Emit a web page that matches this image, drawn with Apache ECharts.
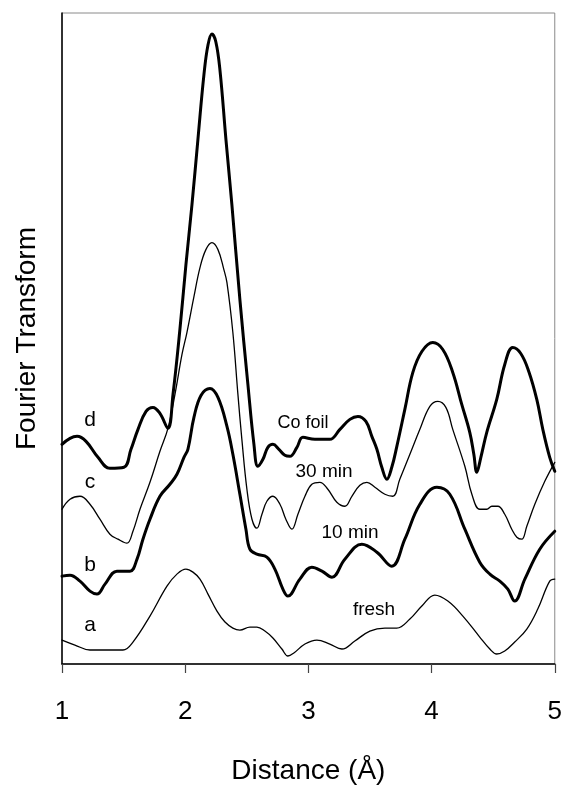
<!DOCTYPE html>
<html>
<head>
<meta charset="utf-8">
<script src="https://cdn.jsdelivr.net/npm/echarts@6/dist/echarts.min.js"></script>
<style>
html,body{margin:0;padding:0;background:#fff;}
#chart{width:565px;height:790px;}
</style>
</head>
<body>
<div id="chart"></div>
<script>
// X axis ticks (Distance, Å)
const xTicks = [1, 2, 3, 4, 5];

// Curve d: Co foil (thick)
const curveD = [
[1.000,220],[1.065,226],[1.122,228],[1.195,223],[1.292,207],[1.389,196],[1.503,197],[1.560,215],
[1.617,235],[1.682,253],[1.738,257],[1.795,251],[1.860,236],[1.901,270],[1.957,335],[2.006,400],
[2.055,460],[2.103,525],[2.152,590],[2.185,620],[2.217,631],[2.249,623],[2.282,595],[2.331,525],
[2.379,460],[2.444,365],[2.509,280],[2.558,220],[2.590,198],[2.631,205],[2.671,217],[2.712,220],
[2.761,215],[2.809,209],[2.850,208],[2.907,217],[2.955,227],[3.053,225],[3.174,225],[3.256,235],
[3.337,245],[3.402,248],[3.467,243],[3.515,228],[3.556,215],[3.596,197],[3.637,185],[3.677,197],
[3.718,218],[3.783,255],[3.848,292],[3.921,313],[4.010,322],[4.091,315],[4.172,292],[4.245,260],
[4.310,232],[4.343,210],[4.367,192],[4.400,207],[4.448,232],[4.529,265],[4.594,300],[4.659,317],
[4.724,311],[4.789,293],[4.854,265],[4.903,235],[4.959,207],[5.000,193]
];

// Curve c: 30 min (thin)
const curveC = [
[1.000,155],[1.065,165],[1.146,168],[1.227,160],[1.308,145],[1.389,130],[1.454,125],[1.527,121],
[1.576,133],[1.633,155],[1.714,182],[1.795,213],[1.860,236],[1.917,270],[1.974,310],[2.014,332],
[2.071,368],[2.120,397],[2.168,415],[2.217,422],[2.266,415],[2.314,395],[2.339,382],[2.387,332],
[2.428,270],[2.460,225],[2.501,175],[2.542,145],[2.582,136],[2.623,150],[2.663,163],[2.712,168],
[2.769,160],[2.817,145],[2.866,135],[2.915,150],[2.972,168],[3.028,180],[3.093,182],[3.158,175],
[3.231,162],[3.296,158],[3.353,168],[3.418,179],[3.475,182],[3.540,177],[3.621,170],[3.686,168],
[3.742,185],[3.824,210],[3.905,235],[3.986,258],[4.051,263],[4.116,257],[4.172,235],[4.270,198],
[4.327,170],[4.391,155],[4.448,155],[4.489,158],[4.538,158],[4.594,150],[4.651,135],[4.692,127],
[4.732,125],[4.773,138],[4.838,160],[4.919,183],[5.000,202]
];

// Curve b: 10 min (thick)
const curveB = [
[1.000,88],[1.065,89],[1.146,83],[1.227,73],[1.284,70],[1.349,80],[1.446,93],[1.552,93],
[1.609,105],[1.657,125],[1.714,145],[1.795,168],[1.876,180],[1.933,190],[1.990,207],[2.022,215],
[2.071,247],[2.128,269],[2.201,276],[2.266,267],[2.339,238],[2.387,210],[2.444,170],[2.493,135],
[2.525,115],[2.582,110],[2.663,107],[2.728,95],[2.793,75],[2.834,68],[2.931,85],[3.028,97],
[3.110,93],[3.191,87],[3.296,105],[3.434,120],[3.556,112],[3.677,98],[3.783,125],[3.905,160],
[4.043,177],[4.148,170],[4.270,135],[4.391,102],[4.473,90],[4.554,83],[4.619,75],[4.675,63],
[4.757,85],[4.878,115],[5.000,133]
];

// Curve a: fresh (thin)
const curveA = [
[1.000,24],[1.105,19],[1.227,14],[1.389,14],[1.495,14],[1.576,22],[1.714,48],[1.852,78],
[1.933,90],[2.006,95],[2.063,92],[2.120,85],[2.185,70],[2.258,53],[2.323,42],[2.387,36],
[2.444,34],[2.525,37],[2.582,37],[2.647,33],[2.712,26],[2.785,15],[2.834,8],[2.882,11],
[2.972,20],[3.069,24],[3.174,20],[3.272,15],[3.377,23],[3.499,33],[3.621,36],[3.718,36],
[3.824,45],[3.921,58],[4.026,69],[4.132,63],[4.254,48],[4.391,27],[4.473,15],[4.529,10],
[4.594,13],[4.675,22],[4.773,35],[4.862,55],[4.959,83],[5.000,85]
];

const curveLetters = ['a', 'b', 'c', 'd'];
const curveNames = ['fresh', '10 min', '30 min', 'Co foil'];

const FONT = 'Liberation Sans, Arial, Helvetica, sans-serif';
const chart = echarts.init(document.getElementById('chart'), null, {renderer: 'canvas'});

function line(data, w) {
  return {
    type: 'line', data: data, symbol: 'none', smooth: 0.4, animation: false,
    lineStyle: {color: '#000', width: w, join: 'round', cap: 'round'}, z: 3
  };
}

function txt(x, y, s, size) {
  return {type: 'text', x: x, y: y, z: 10,
    style: {text: s, fontSize: size, fontFamily: FONT, fill: '#000', align: 'center', verticalAlign: 'middle'}};
}

chart.setOption({
  animation: false,
  backgroundColor: '#fff',
  grid: {left: 62, right: 10, top: 13, bottom: 125, show: true, borderColor: '#8a8a8a', borderWidth: 1, containLabel: false},
  xAxis: {
    type: 'value', min: xTicks[0], max: xTicks[xTicks.length - 1], interval: 1,
    name: 'Distance (Å)', nameLocation: 'middle', nameGap: 93,
    nameTextStyle: {fontSize: 28, fontFamily: FONT, color: '#000'},
    axisLine: {show: true, lineStyle: {color: '#000', width: 1.5}},
    axisTick: {show: true, inside: false, length: 9, lineStyle: {color: '#444', width: 1.2}},
    axisLabel: {fontSize: 26, fontFamily: FONT, color: '#000', margin: 35},
    splitLine: {show: false}
  },
  yAxis: {
    type: 'value', min: 0, max: 652,
    name: 'Fourier Transform', nameLocation: 'middle', nameGap: 21, nameRotate: 90,
    nameTextStyle: {fontSize: 28, fontFamily: FONT, color: '#000'},
    axisLine: {show: true, lineStyle: {color: '#000', width: 1.5}},
    axisTick: {show: false}, axisLabel: {show: false}, splitLine: {show: false}
  },
  series: [line(curveA, 1.3), line(curveB, 3), line(curveC, 1.3), line(curveD, 3)],
  graphic: [
    txt(90, 420, curveLetters[3], 21),
    txt(90, 482, curveLetters[2], 21),
    txt(90, 565, curveLetters[1], 21),
    txt(90, 625, curveLetters[0], 21),
    txt(303, 423, curveNames[3], 18),
    txt(324, 472, curveNames[2], 19),
    txt(350, 533, curveNames[1], 19),
    txt(374, 610, curveNames[0], 19)
  ]
});
</script>
</body>
</html>
